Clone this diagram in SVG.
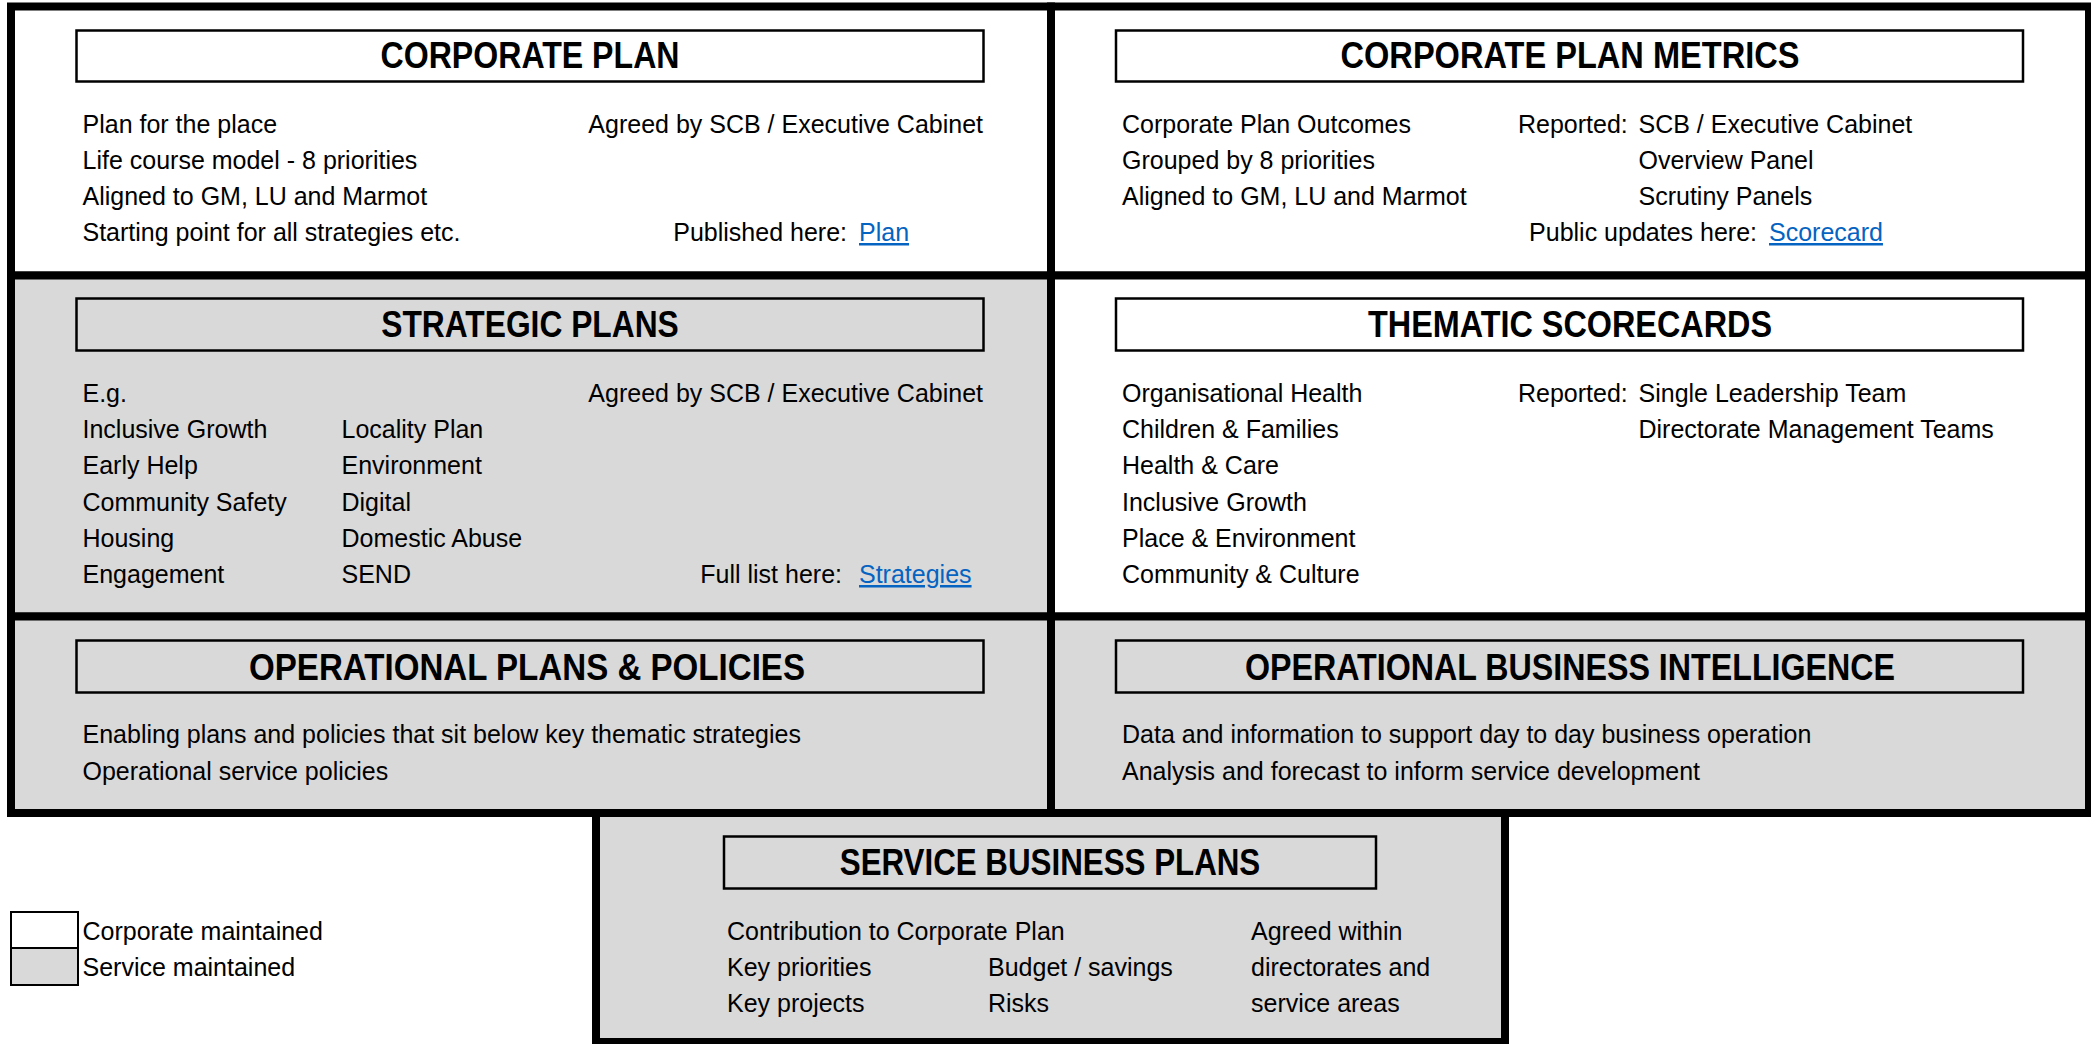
<svg xmlns="http://www.w3.org/2000/svg" width="2091" height="1044" viewBox="0 0 2091 1044">
<style>
.cell{stroke:#000;stroke-width:8}
.white{fill:#fff}
.grey{fill:#d9d9d9}
.tbox{stroke:#000;stroke-width:2.5}
.title{font-family:"Liberation Sans",Arial,sans-serif;font-weight:bold;font-size:36px;fill:#000;text-anchor:middle}
.t{font-family:"Liberation Sans",Arial,sans-serif;font-size:25px;fill:#000}
.e{text-anchor:end}
.link{fill:#0563c1;text-decoration:underline}
.leg{stroke:#000;stroke-width:2}
</style>
<rect width="2091" height="1044" fill="#fff"/>

<g id="corporate-plan">
<rect class="cell white" x="11" y="6.5" width="1040" height="269"/>
<rect class="tbox white" x="76.5" y="30.5" width="907" height="51"/>
<text class="title" x="530" y="68" textLength="299" lengthAdjust="spacingAndGlyphs">CORPORATE PLAN</text>
<text class="t" x="82.5" y="133">Plan for the place</text>
<text class="t" x="82.5" y="169">Life course model - 8 priorities</text>
<text class="t" x="82.5" y="205">Aligned to GM, LU and Marmot</text>
<text class="t" x="82.5" y="241">Starting point for all strategies etc.</text>
<text class="t e" x="983" y="133">Agreed by SCB / Executive Cabinet</text>
<text class="t e" x="847" y="241">Published here:</text>
<text class="t link" x="859" y="241">Plan</text>
</g>

<g id="corporate-plan-metrics">
<rect class="cell white" x="1051" y="6.5" width="1038" height="269"/>
<rect class="tbox white" x="1116" y="30.5" width="907" height="51"/>
<text class="title" x="1570" y="68" textLength="459" lengthAdjust="spacingAndGlyphs">CORPORATE PLAN METRICS</text>
<text class="t" x="1122" y="133">Corporate Plan Outcomes</text>
<text class="t" x="1122" y="169">Grouped by 8 priorities</text>
<text class="t" x="1122" y="205">Aligned to GM, LU and Marmot</text>
<text class="t" x="1518" y="133">Reported:</text>
<text class="t" x="1638.5" y="133">SCB / Executive Cabinet</text>
<text class="t" x="1638.5" y="169">Overview Panel</text>
<text class="t" x="1638.5" y="205">Scrutiny Panels</text>
<text class="t e" x="1757" y="241">Public updates here:</text>
<text class="t link" x="1769" y="241">Scorecard</text>
</g>

<g id="strategic-plans">
<rect class="cell grey" x="11" y="275.5" width="1040" height="341"/>
<rect class="tbox grey" x="76.5" y="298.5" width="907" height="52"/>
<text class="title" x="530" y="337" textLength="297.5" lengthAdjust="spacingAndGlyphs">STRATEGIC PLANS</text>
<text class="t" x="82.5" y="401.5">E.g.</text>
<text class="t" x="82.5" y="438">Inclusive Growth</text>
<text class="t" x="82.5" y="474">Early Help</text>
<text class="t" x="82.5" y="510.5">Community Safety</text>
<text class="t" x="82.5" y="547">Housing</text>
<text class="t" x="82.5" y="583">Engagement</text>
<text class="t" x="341.5" y="438">Locality Plan</text>
<text class="t" x="341.5" y="474">Environment</text>
<text class="t" x="341.5" y="510.5">Digital</text>
<text class="t" x="341.5" y="547">Domestic Abuse</text>
<text class="t" x="341.5" y="583">SEND</text>
<text class="t e" x="983" y="401.5">Agreed by SCB / Executive Cabinet</text>
<text class="t e" x="842" y="583">Full list here:</text>
<text class="t link" x="859" y="583">Strategies</text>
</g>

<g id="thematic-scorecards">
<rect class="cell white" x="1051" y="275.5" width="1038" height="341"/>
<rect class="tbox white" x="1116" y="298.5" width="907" height="52"/>
<text class="title" x="1570" y="337" textLength="404" lengthAdjust="spacingAndGlyphs">THEMATIC SCORECARDS</text>
<text class="t" x="1122" y="401.5">Organisational Health</text>
<text class="t" x="1122" y="438">Children &amp; Families</text>
<text class="t" x="1122" y="474">Health &amp; Care</text>
<text class="t" x="1122" y="510.5">Inclusive Growth</text>
<text class="t" x="1122" y="547">Place &amp; Environment</text>
<text class="t" x="1122" y="583">Community &amp; Culture</text>
<text class="t" x="1518" y="401.5">Reported:</text>
<text class="t" x="1638.5" y="401.5">Single Leadership Team</text>
<text class="t" x="1638.5" y="438">Directorate Management Teams</text>
</g>

<g id="operational-plans-policies">
<rect class="cell grey" x="11" y="616.5" width="1040" height="196.5"/>
<rect class="tbox grey" x="76.5" y="640.5" width="907" height="52"/>
<text class="title" x="527" y="679.5" textLength="556" lengthAdjust="spacingAndGlyphs">OPERATIONAL PLANS &amp; POLICIES</text>
<text class="t" x="82.5" y="743">Enabling plans and policies that sit below key thematic strategies</text>
<text class="t" x="82.5" y="780">Operational service policies</text>
</g>

<g id="operational-business-intelligence">
<rect class="cell grey" x="1051" y="616.5" width="1038" height="196.5"/>
<rect class="tbox grey" x="1116" y="640.5" width="907" height="52"/>
<text class="title" x="1570" y="679.5" textLength="650" lengthAdjust="spacingAndGlyphs">OPERATIONAL BUSINESS INTELLIGENCE</text>
<text class="t" x="1122" y="743">Data and information to support day to day business operation</text>
<text class="t" x="1122" y="780">Analysis and forecast to inform service development</text>
</g>

<g id="service-business-plans">
<rect class="cell grey" x="596" y="813" width="909" height="229"/>
<rect class="tbox grey" x="724" y="836.5" width="652" height="52"/>
<text class="title" x="1050" y="874.5" textLength="420.5" lengthAdjust="spacingAndGlyphs">SERVICE BUSINESS PLANS</text>
<text class="t" x="727" y="940">Contribution to Corporate Plan</text>
<text class="t" x="727" y="976">Key priorities</text>
<text class="t" x="727" y="1012">Key projects</text>
<text class="t" x="988" y="976">Budget / savings</text>
<text class="t" x="988" y="1012">Risks</text>
<text class="t" x="1251" y="940">Agreed within</text>
<text class="t" x="1251" y="976">directorates and</text>
<text class="t" x="1251" y="1012">service areas</text>
</g>

<g id="legend">
<rect class="leg white" x="11" y="912" width="67" height="36"/>
<rect class="leg grey" x="11" y="948" width="67" height="37"/>
<text class="t" x="82.5" y="940">Corporate maintained</text>
<text class="t" x="82.5" y="976">Service maintained</text>
</g>

<g id="connectors"/>
</svg>
